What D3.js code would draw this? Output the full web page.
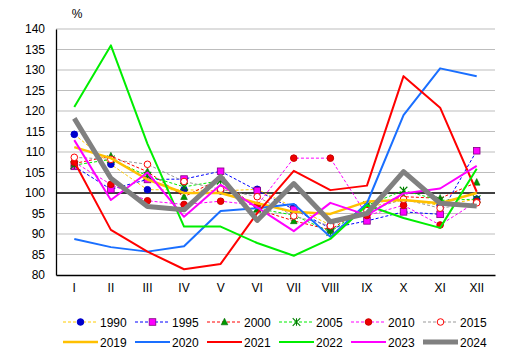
<!DOCTYPE html>
<html><head><meta charset="utf-8">
<script src="https://cdn.jsdelivr.net/npm/d3@7"></script>
<style>body{margin:0;background:#fff;}svg{display:block;font-family:"Liberation Sans",Arial,sans-serif;}</style>
</head><body><svg id="c" width="514" height="357"></svg>
<script>
const months = ["I","II","III","IV","V","VI","VII","VIII","IX","X","XI","XII"];
const yTicks = [80,85,90,95,100,105,110,115,120,125,130,135,140];
const s1990 = [114.3,107,100.8,100.8,100.5,100.9,96.5,92.2,96.5,98.3,97,98.5];
const s1995 = [106.5,100.9,103.3,103.4,105.3,100.6,96,91.4,93.2,95.4,94.8,110.3];
const s2000 = [107.2,109,105.2,99.1,103.5,96,93.2,91,97,99.1,98.7,102.6];
const s2005 = [106.8,108.2,104.2,101.5,103,96.2,94.6,90.5,97,100.6,98.2,98.5];
const s2010 = [107.5,102.1,98.1,97.2,98,97,108.5,108.5,94.5,97,92.2,97.9];
const s2015 = [108.7,108.2,107,102.8,100.9,99.1,94.4,92,95.7,98.5,96.3,97.6];
const s2019 = [111.2,108.5,103.3,100,100,97.5,95.4,94.9,97.9,98.3,97.5,100];
const s2020 = [88.8,86.8,85.7,87,95.6,96.3,97.3,89.3,97.5,119,130.4,128.5];
const s2021 = [107.6,91,85.7,81.4,82.7,95.1,105.4,100.7,101.8,128.5,120.8,100.3];
const s2022 = [121,136,112,91.8,91.8,87.8,84.7,88.8,97,93.9,91.5,105.9];
const s2023 = [112.9,98.3,105,94.2,102,96.5,90.7,97.6,94.6,99.9,101.1,106.6];
const s2024 = [118.2,103.6,96.7,95.9,104,93.3,102.3,93,95,105.2,97.5,96.8];

const series = [
 {name:"1990", data:s1990, color:"#ffcc00", w:1, dash:"3,2", marker:"circle", mfill:"#0000cc", mstroke:"#0000cc"},
 {name:"1995", data:s1995, color:"#0000ff", w:1, dash:"3,2", marker:"square", mfill:"#ff00ff", mstroke:"#800080"},
 {name:"2000", data:s2000, color:"#ff0000", w:1, dash:"3,2", marker:"triangle", mfill:"#009900", mstroke:"#006600"},
 {name:"2005", data:s2005, color:"#00ee00", w:1, dash:"3,2", marker:"star", mfill:"none", mstroke:"#008000"},
 {name:"2010", data:s2010, color:"#ff00ff", w:1, dash:"3,2", marker:"circle", mfill:"#ee0000", mstroke:"#cc0000"},
 {name:"2015", data:s2015, color:"#999999", w:1, dash:"3,2", marker:"circle", mfill:"#ffffff", mstroke:"#ff0000"},
 {name:"2019", data:s2019, color:"#ffc000", w:2.5, dash:null},
 {name:"2020", data:s2020, color:"#1a6fff", w:2, dash:null},
 {name:"2021", data:s2021, color:"#ff0000", w:2, dash:null},
 {name:"2022", data:s2022, color:"#00ee00", w:2, dash:null},
 {name:"2023", data:s2023, color:"#ff00ff", w:2, dash:null},
 {name:"2024", data:s2024, color:"#808080", w:5, dash:null}
];

const svg = d3.select("#c");
const L=56, R=495, T=29, B=275;
const x = d3.scaleBand().domain(months).range([L,R]);
const y = d3.scaleLinear().domain([80,140]).range([B,T]);

// grid
svg.append("g").selectAll("line").data(yTicks.filter(v=>v!==80)).join("line")
 .attr("x1",L).attr("x2",R).attr("y1",d=>y(d)).attr("y2",d=>y(d))
 .attr("stroke",d=>d===100?"#000":"#bdbdbd").attr("stroke-width",d=>d===100?1.3:1);

// axes
const ya = svg.append("g").attr("transform",`translate(${L},0)`).call(d3.axisLeft(y).tickValues(yTicks).tickSize(0).tickPadding(11));
ya.select(".domain").attr("stroke","#000").attr("stroke-width",1.3);
ya.selectAll("text").attr("font-size",12).attr("fill","#000").attr("font-family","Liberation Sans, Arial, sans-serif");
const xa = svg.append("g").attr("transform",`translate(0,${B})`).call(d3.axisBottom(x).tickSize(0).tickPadding(8));
xa.select(".domain").attr("stroke","#000").attr("stroke-width",1.3);
xa.selectAll("text").attr("font-size",12).attr("fill","#000").attr("font-family","Liberation Sans, Arial, sans-serif");

svg.append("text").attr("x",77).attr("y",18).attr("text-anchor","middle").attr("font-size",12).text("%");

const cx = m => x(m)+x.bandwidth()/2;
const line = d3.line().x((d,i)=>cx(months[i])).y(d=>y(d));

function drawMarker(g, type, px, py, s){
  const r=3.3;
  if(type==="circle") g.append("circle").attr("cx",px).attr("cy",py).attr("r",r).attr("fill",s.mfill).attr("stroke",s.mstroke).attr("stroke-width",1);
  else if(type==="square") g.append("rect").attr("x",px-r).attr("y",py-r).attr("width",2*r).attr("height",2*r).attr("fill",s.mfill).attr("stroke",s.mstroke).attr("stroke-width",0.8);
  else if(type==="triangle") g.append("path").attr("d",`M${px},${py-r-0.5}L${px+r},${py+r-0.5}L${px-r},${py+r-0.5}Z`).attr("fill",s.mfill).attr("stroke",s.mstroke).attr("stroke-width",0.6);
  else if(type==="star"){
    const p=d3.path(); const rr=3.8;
    p.moveTo(px-rr,py-rr);p.lineTo(px+rr,py+rr);p.moveTo(px+rr,py-rr);p.lineTo(px-rr,py+rr);p.moveTo(px,py-rr);p.lineTo(px,py+rr);
    g.append("path").attr("d",p.toString()).attr("stroke",s.mstroke).attr("stroke-width",1.1).attr("fill","none");
  }
}

const plot = svg.append("g");
series.forEach(s=>{
  const g = plot.append("g");
  g.append("path").attr("d",line(s.data)).attr("fill","none").attr("stroke",s.color)
   .attr("stroke-width",s.w).attr("stroke-dasharray",s.dash).attr("stroke-linejoin","round");
  if(s.marker) s.data.forEach((v,i)=>drawMarker(g,s.marker,cx(months[i]),y(v),s));
});

// legend
const leg = svg.append("g");
series.forEach((s,i)=>{
  const col=i%6, row=Math.floor(i/6);
  const lx=63+col*72, ly=322+row*20;
  const g=leg.append("g");
  g.append("line").attr("x1",lx).attr("x2",lx+35).attr("y1",ly).attr("y2",ly).attr("stroke",s.color)
   .attr("stroke-width",s.w).attr("stroke-dasharray",s.dash);
  if(s.marker) drawMarker(g,s.marker,lx+17.5,ly,s);
  g.append("text").attr("x",lx+37).attr("y",ly+4.5).attr("font-size",12).attr("fill","#000").text(s.name);
});
</script></body></html>
